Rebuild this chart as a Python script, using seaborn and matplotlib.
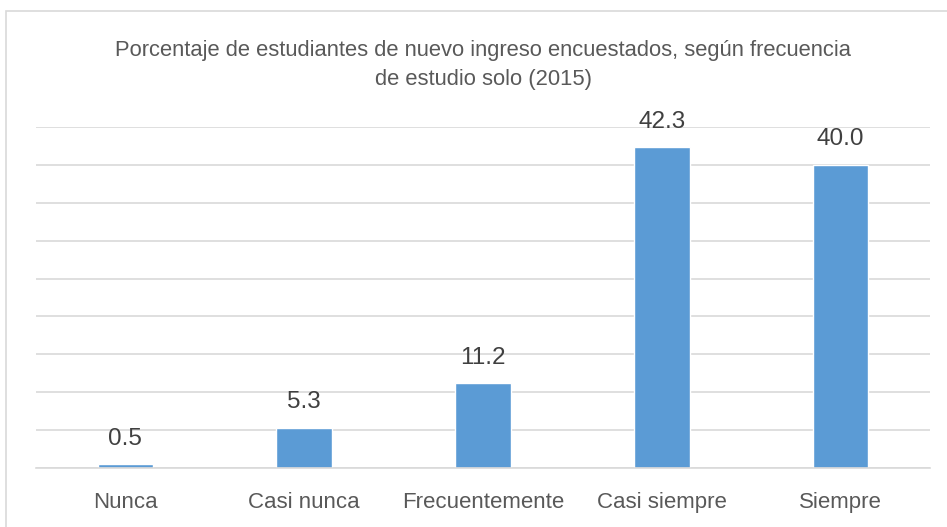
import matplotlib
matplotlib.use("Agg")
import matplotlib.pyplot as plt
import seaborn as sns
import pandas as pd
from matplotlib.patches import Rectangle

# Chart data
categorias = ['Nunca', 'Casi nunca', 'Frecuentemente', 'Casi siempre', 'Siempre']
porcentajes = [0.5, 5.3, 11.2, 42.3, 40.0]
etiquetas = ['0.5', '5.3', '11.2', '42.3', '40.0']

df = pd.DataFrame({'categoria': categorias, 'porcentaje': porcentajes})

sns.set_theme(style="white")
plt.rcParams['font.family'] = ['Liberation Sans', 'DejaVu Sans']

fig = plt.figure(figsize=(9.47, 5.27), dpi=100)
ax = fig.add_axes([36 / 947, 1 - 468 / 527, 894 / 947, 341 / 527])

sns.barplot(data=df, x='categoria', y='porcentaje', color='#5B9BD5',
            width=0.31, saturation=1, ax=ax)

ax.set_ylim(0, 45)
ax.set_yticks(range(0, 46, 5))
ax.set_yticklabels([])
ax.yaxis.grid(True, color='#D9D9D9', linewidth=1.2)
ax.set_axisbelow(True)
ax.tick_params(axis='both', length=0)
ax.tick_params(axis='x', labelsize=16, labelcolor='#595959', pad=17)
for s in ['top', 'right', 'left']:
    ax.spines[s].set_visible(False)
ax.spines['bottom'].set_color('#D9D9D9')
ax.spines['bottom'].set_linewidth(1.2)
ax.set_xlabel('')
ax.set_ylabel('')

for i, (v, t) in enumerate(zip(porcentajes, etiquetas)):
    ax.text(i, v + 1.9, t, ha='center', va='bottom', fontsize=17.5, color='#404040')

fig.text(483 / 947, 1 - 65 / 527,
         'Porcentaje de estudiantes de nuevo ingreso encuestados, según frecuencia\nde estudio solo (2015)',
         ha='center', va='center', fontsize=15.8, color='#595959', linespacing=1.55)

# outer chart frame
fig.patches.append(Rectangle((6 / 947, -0.05), 1.1, 1 - 11 / 527 + 0.05,
                             transform=fig.transFigure, fill=False,
                             edgecolor='#D9D9D9', linewidth=1.2))

fig.savefig('out.png', dpi=100)
